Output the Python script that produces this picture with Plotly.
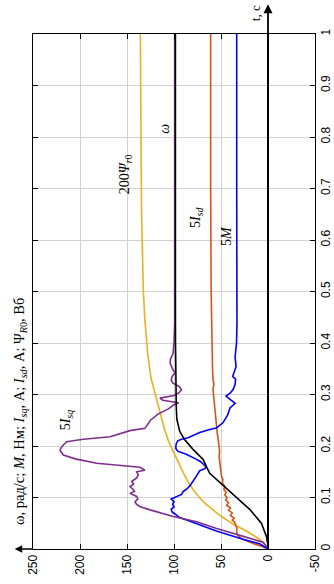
import plotly.graph_objects as go

# time samples (s) and values for each transient curve
t_w = [0, 0.01, 0.024, 0.05, 0.077, 0.1, 0.124, 0.147, 0.158, 0.174, 0.194, 0.213,
       0.229, 0.252, 0.277, 0.33, 0.4, 0.5, 0.7, 1.0]
w = [0, 0.3, 1.6, 7, 19.5, 33.7, 48, 62, 65, 69, 80, 89, 94, 97, 97.6, 98.2, 98.4,
     98.5, 98.5, 98.5]

t_isq = [0, 0.005, 0.013, 0.024, 0.040, 0.053, 0.063, 0.076, 0.082, 0.087, 0.092,
         0.097, 0.102, 0.108, 0.112, 0.115, 0.121, 0.126, 0.131, 0.138, 0.144, 0.150,
         0.153, 0.1586, 0.1664, 0.175, 0.1825, 0.192, 0.1987, 0.2084, 0.213, 0.218,
         0.2246, 0.2298, 0.2343, 0.244, 0.25, 0.262, 0.272, 0.28, 0.284, 0.289, 0.293,
         0.298, 0.303, 0.309, 0.315, 0.322, 0.328, 0.335, 0.342, 0.348, 0.36, 0.367,
         0.38, 0.40, 0.438, 0.5, 0.7, 1.0]
isq5 = [0, 1.5, 5.3, 26.2, 54.6, 75.9, 100.7, 125.5, 136, 140, 141.4, 138.5, 139.7,
        146.8, 142, 143.3, 146.8, 143, 145, 139.7, 138, 139.7, 131, 136.2, 182.2, 205,
        217.7, 221.3, 219.5, 214.2, 196.5, 168, 157.4, 146.8, 130.9, 127.3, 125, 117,
        106, 100, 95, 112, 115, 100, 95, 92, 94, 101, 103, 102, 99, 101, 104, 104, 101,
        100, 99.3, 99.3, 99.3, 99.3]

t_m = [0, 0.005, 0.01, 0.019, 0.035, 0.052, 0.061, 0.068, 0.072, 0.077, 0.082, 0.087,
       0.092, 0.097, 0.101, 0.106, 0.112, 0.117, 0.123, 0.128, 0.135, 0.142, 0.148,
       0.152, 0.156, 0.160, 0.165, 0.170, 0.174, 0.180, 0.184, 0.19, 0.195, 0.2, 0.205,
       0.21, 0.213, 0.216, 0.221, 0.226, 0.232, 0.235, 0.245, 0.26, 0.274, 0.283, 0.29,
       0.297, 0.303, 0.31, 0.32, 0.33, 0.335, 0.345, 0.354, 0.373, 0.4, 0.438, 0.5,
       0.7, 1.0]
m5 = [0, 4, 9, 26.6, 55, 80, 94, 99, 102, 103, 100, 101.5, 100, 103, 98, 92, 90, 86,
      83, 81, 78, 76, 74, 72.7, 67, 66, 69, 72, 76, 82, 87, 96, 98, 98, 97.5, 96, 92,
      85, 78, 72.7, 62, 55, 48, 43, 40.4, 35, 40, 44.7, 40, 37, 35, 34.5, 37.6, 35.5,
      34, 35, 33.5, 33, 33.2, 33.3, 33.3]

t_isd = [0, 0.005, 0.01, 0.015, 0.02, 0.026, 0.033, 0.04, 0.047, 0.052, 0.056, 0.06,
         0.065, 0.07, 0.075, 0.08, 0.085, 0.09, 0.095, 0.1, 0.105, 0.11, 0.116, 0.122,
         0.128, 0.135, 0.142, 0.15, 0.16, 0.168, 0.18, 0.19, 0.2, 0.213, 0.225, 0.235,
         0.245, 0.26, 0.275, 0.29, 0.3, 0.31, 0.32, 0.33, 0.35, 0.4, 0.5, 0.7, 1.0]
isd5 = [0, 6, 15, 22, 28, 32, 33.5, 33, 34, 35.5, 38, 36, 40, 38, 42, 40, 44, 42, 45,
        43.5, 46, 44.5, 47, 46, 48.5, 48, 49.6, 50, 51, 51.4, 52, 51.5, 52.5, 53, 54,
        54.5, 55, 55.5, 56, 56.7, 57.5, 58.5, 57.5, 58.5, 59, 59.5, 60.5, 61, 61]

t_psi = [0, 0.01, 0.019, 0.035, 0.048, 0.065, 0.087, 0.1, 0.116, 0.135, 0.155, 0.19,
         0.21, 0.232, 0.265, 0.303, 0.332, 0.38, 0.445, 0.5, 0.575, 0.65, 0.77, 0.9, 1.0]
psi200 = [0, 4, 9, 23, 37, 51, 66, 73, 80, 86.5, 92, 101, 106, 110, 115, 120.6, 124.5,
          128, 131, 132.6, 133.7, 134.5, 135, 135.5, 135.8]

val_ticks = [250, 200, 150, 100, 50, 0, -50]
time_ticks = [0, 0.1, 0.2, 0.3, 0.4, 0.5, 0.6, 0.7, 0.8, 0.9, 1]

series = [
    (psi200, t_psi, "#EDB120"),
    (isd5, t_isd, "#D95319"),
    (m5, t_m, "#0000FF"),
    (isq5, t_isq, "#7E2F8E"),
    (w, t_w, "#000000"),
]

fig = go.Figure()
for vals, ts, col in series:
    fig.add_trace(go.Scatter(x=vals, y=ts, mode="lines",
                             line=dict(color=col, width=1.6), showlegend=False,
                             hoverinfo="skip"))

serif = "Liberation Serif, Times New Roman, serif"
labels = [
    ("5<i>I</i><sub><i>sq</i></sub>", 215, 0.25),
    ("200<i>Ψ</i><sub><i>r</i>0</sub>", 152, 0.728),
    ("<i>ω</i>", 109.6, 0.816),
    ("5<i>I</i><sub><i>sd</i></sub>", 75.5, 0.643),
    ("5<i>M</i>", 43.6, 0.608),
]
for txt, xv, yv in labels:
    fig.add_annotation(x=xv, y=yv, text=txt, showarrow=False, textangle=-90,
                       xanchor="center", yanchor="middle",
                       font=dict(family=serif, size=14, color="black"))

# value-axis caption and arrow (left), time-axis caption and arrow (top)
fig.add_annotation(xref="paper", yref="paper", x=-0.046, y=0.266, showarrow=False,
                   textangle=-90, xanchor="center", yanchor="middle",
                   text="ω, рад/с; <i>M</i>, Нм; <i>I</i><sub><i>sq</i></sub>, А; "
                        "<i>I</i><sub><i>sd</i></sub>, А; Ψ<sub><i>R</i>0</sub>, Вб",
                   font=dict(family=serif, size=14.5, color="black"))
fig.add_annotation(xref="paper", yref="paper", x=-0.065, y=0, ax=20, ay=0,
                   axref="pixel", ayref="pixel", showarrow=True, arrowhead=2,
                   arrowsize=1, arrowwidth=1.5, arrowcolor="black", text="")
fig.add_annotation(xref="x", yref="paper", x=0, y=1.058, ax=0, ay=32,
                   axref="pixel", ayref="pixel", showarrow=True, arrowhead=2,
                   arrowsize=1, arrowwidth=1.8, arrowcolor="black", text="")
fig.add_annotation(xref="paper", yref="paper", x=0.79, y=1.04, showarrow=False,
                   textangle=-90, text="t, c", xanchor="center", yanchor="middle",
                   font=dict(family=serif, size=13, color="black"))

axis_common = dict(showline=True, linecolor="black", linewidth=1, mirror="ticks",
                   ticks="inside", ticklen=5, tickcolor="black", tickwidth=1,
                   showgrid=True, gridcolor="#d2d2d2", gridwidth=1, tickangle=-90,
                   automargin=False,
                   tickfont=dict(family="Liberation Sans, Arial, sans-serif",
                                 size=12, color="black"))

fig.update_xaxes(range=[250, -50], tickvals=val_ticks,
                 ticktext=[str(v) for v in val_ticks],
                 zeroline=True, zerolinecolor="black", zerolinewidth=2,
                 **axis_common)
fig.update_yaxes(range=[0, 1], side="right", tickvals=time_ticks,
                 ticktext=[f"{v:g}" for v in time_ticks], zeroline=False,
                 **axis_common)

fig.update_layout(width=334, height=584, margin=dict(l=33, r=19, t=34, b=35),
                  paper_bgcolor="white", plot_bgcolor="white")

fig.write_html("out.html")
